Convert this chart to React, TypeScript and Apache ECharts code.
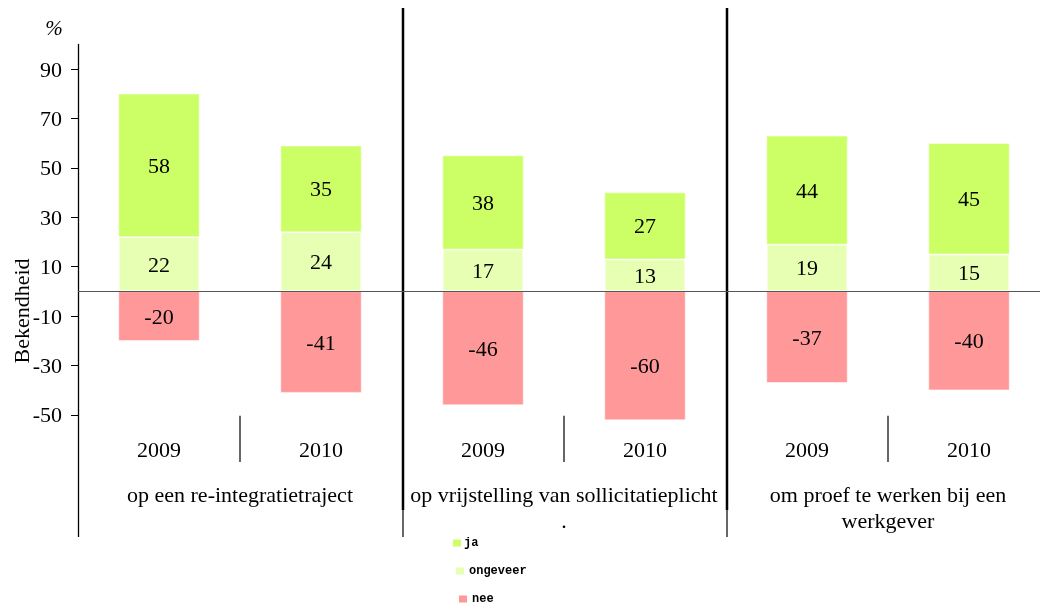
import React, { useEffect, useRef } from "react";
import * as echarts from "echarts";

const CATEGORIES = ["2009", "2010", "2009", "2010", "2009", "2010"];
const GROUPS = [
  "op een re-integratietraject",
  "op vrijstelling van sollicitatieplicht\n.",
  "om proef te werken bij een\nwerkgever",
];
const JA = [58, 35, 38, 27, 44, 45];
const ONGEVEER = [22, 24, 17, 13, 19, 15];
const NEE = [-20, -41, -46, -60, -37, -40];
const Y_TICKS = [-50, -30, -10, 10, 30, 50, 70, 90];
const Y_MIN = -52;
const Y_MAX = 100;
const SERIES_NAMES = ["ja", "ongeveer", "nee"];

const COLORS = { ja: "#ccff66", ongeveer: "#e6ffb3", nee: "#ff9999" };
const SERIF = "Liberation Serif, Times New Roman, serif";
const MONO = "Liberation Mono, DejaVu Sans Mono, monospace";

const W = 1040;
const H = 606;
const CHART_W = 1050; // plot area runs past the right edge of the page
const GRID_LEFT = 78;
const GRID_TOP = 44.4;
const GRID_BOTTOM = 186.2;

export default function App() {
  const ref = useRef<HTMLDivElement>(null);

  useEffect(() => {
    if (!ref.current) return;
    const chart = echarts.init(ref.current, undefined, { renderer: "svg" });

    const plotW = CHART_W - GRID_LEFT;
    const catW = plotW / CATEGORIES.length;
    const plotBottom = H - GRID_BOTTOM;
    const pxPerUnit = (H - GRID_TOP - GRID_BOTTOM) / (Y_MAX - Y_MIN);

    const lines: any[] = [];
    lines.push({
      type: "line",
      shape: { x1: GRID_LEFT + 0.5, y1: plotBottom, x2: GRID_LEFT + 0.5, y2: 537 },
      style: { stroke: "#000", lineWidth: 1.3 },
    });
    [2, 4].forEach((k) => {
      const x = GRID_LEFT + k * catW + 1;
      lines.push({
        type: "line",
        shape: { x1: x, y1: 8, x2: x, y2: 510 },
        style: { stroke: "#000", lineWidth: 2.5 },
      });
      lines.push({
        type: "line",
        shape: { x1: x, y1: 510, x2: x, y2: 537 },
        style: { stroke: "#000", lineWidth: 1.2 },
      });
    });
    [1, 3, 5].forEach((k) => {
      const x = GRID_LEFT + k * catW;
      lines.push({
        type: "line",
        shape: { x1: x, y1: plotBottom - 4, x2: x, y2: 462 },
        style: { stroke: "#000", lineWidth: 1.2 },
      });
    });

    const labelStyle = {
      show: true,
      position: "inside",
      color: "#000",
      fontFamily: SERIF,
      fontSize: 22,
    };

    const legendPos = [
      { left: 453, top: 537 },
      { left: 456, top: 565 },
      { left: 459, top: 593 },
    ];
    const legends = SERIES_NAMES.map((name, i) => ({
      orient: "vertical",
      left: legendPos[i].left,
      top: legendPos[i].top,
      itemWidth: 8,
      itemHeight: 7,
      icon: "rect",
      data: [name],
      selectedMode: false,
      padding: 0,
      itemStyle: { borderWidth: 0 },
      textStyle: {
        fontFamily: MONO,
        fontSize: 12,
        fontWeight: "bold",
        color: "#000",
        padding: [0, 0, 0, i === 0 ? -2 : 0],
      },
    }));

    chart.setOption({
      animation: false,
      grid: {
        left: GRID_LEFT,
        right: 0,
        top: GRID_TOP,
        bottom: GRID_BOTTOM,
        containLabel: false,
      },
      legend: legends,
      xAxis: [
        {
          type: "category",
          data: CATEGORIES,
          axisLine: { show: false },
          axisTick: { show: false },
          axisLabel: {
            interval: 0,
            margin: 19,
            color: "#000",
            fontFamily: SERIF,
            fontSize: 22,
          },
        },
        {
          type: "category",
          data: GROUPS,
          position: "bottom",
          offset: 54,
          axisLine: { show: false },
          axisTick: { show: false },
          axisLabel: {
            interval: 0,
            margin: 8,
            color: "#000",
            fontFamily: SERIF,
            fontSize: 22,
            lineHeight: 26,
          },
        },
      ],
      yAxis: {
        type: "value",
        min: Y_MIN,
        max: Y_MAX,
        splitLine: { show: false },
        axisLine: { show: true, lineStyle: { color: "#000", width: 1.3 } },
        axisTick: {
          show: true,
          length: 7,
          customValues: Y_TICKS,
          lineStyle: { color: "#000" },
        },
        axisLabel: {
          customValues: Y_TICKS,
          margin: 16,
          color: "#000",
          fontFamily: SERIF,
          fontSize: 22,
        },
      },
      series: [
        {
          name: "ongeveer",
          type: "bar",
          stack: "total",
          barWidth: "50%",
          data: ONGEVEER,
          itemStyle: { color: COLORS.ongeveer, borderColor: "#ffffff", borderWidth: 1 },
          label: labelStyle,
          markLine: {
            silent: true,
            symbol: "none",
            label: { show: false },
            lineStyle: { color: "#555", width: 1, type: "solid" },
            data: [{ yAxis: 0 }],
          },
        },
        {
          name: "ja",
          type: "bar",
          stack: "total",
          barWidth: "50%",
          data: JA,
          itemStyle: { color: COLORS.ja, borderColor: "#ffffff", borderWidth: 0.5 },
          label: labelStyle,
        },
        {
          name: "nee",
          type: "bar",
          stack: "total",
          barWidth: "50%",
          data: NEE.map((v) =>
            v < Y_MIN
              ? { value: v, label: { offset: [0, ((Y_MIN - v) / 2) * pxPerUnit] } }
              : v
          ),
          itemStyle: { color: COLORS.nee, borderColor: "#ffffff", borderWidth: 0.5 },
          label: labelStyle,
        },
      ],
      graphic: [
        ...lines,
        {
          type: "text",
          x: 54,
          y: 28,
          style: {
            text: "%",
            fontFamily: SERIF,
            fontSize: 21,
            fontStyle: "italic",
            fill: "#000",
            align: "center",
            verticalAlign: "middle",
          },
        },
        {
          type: "text",
          x: 21,
          y: 311,
          rotation: Math.PI / 2,
          style: {
            text: "Bekendheid",
            fontFamily: SERIF,
            fontSize: 22,
            fill: "#000",
            align: "center",
            verticalAlign: "middle",
          },
        },
      ],
    });

    return () => chart.dispose();
  }, []);

  return (
    <div
      style={{
        position: "fixed",
        left: 0,
        top: 0,
        width: W,
        height: H,
        overflow: "hidden",
      }}
    >
      <div ref={ref} style={{ width: CHART_W, height: H }} />
    </div>
  );
}
